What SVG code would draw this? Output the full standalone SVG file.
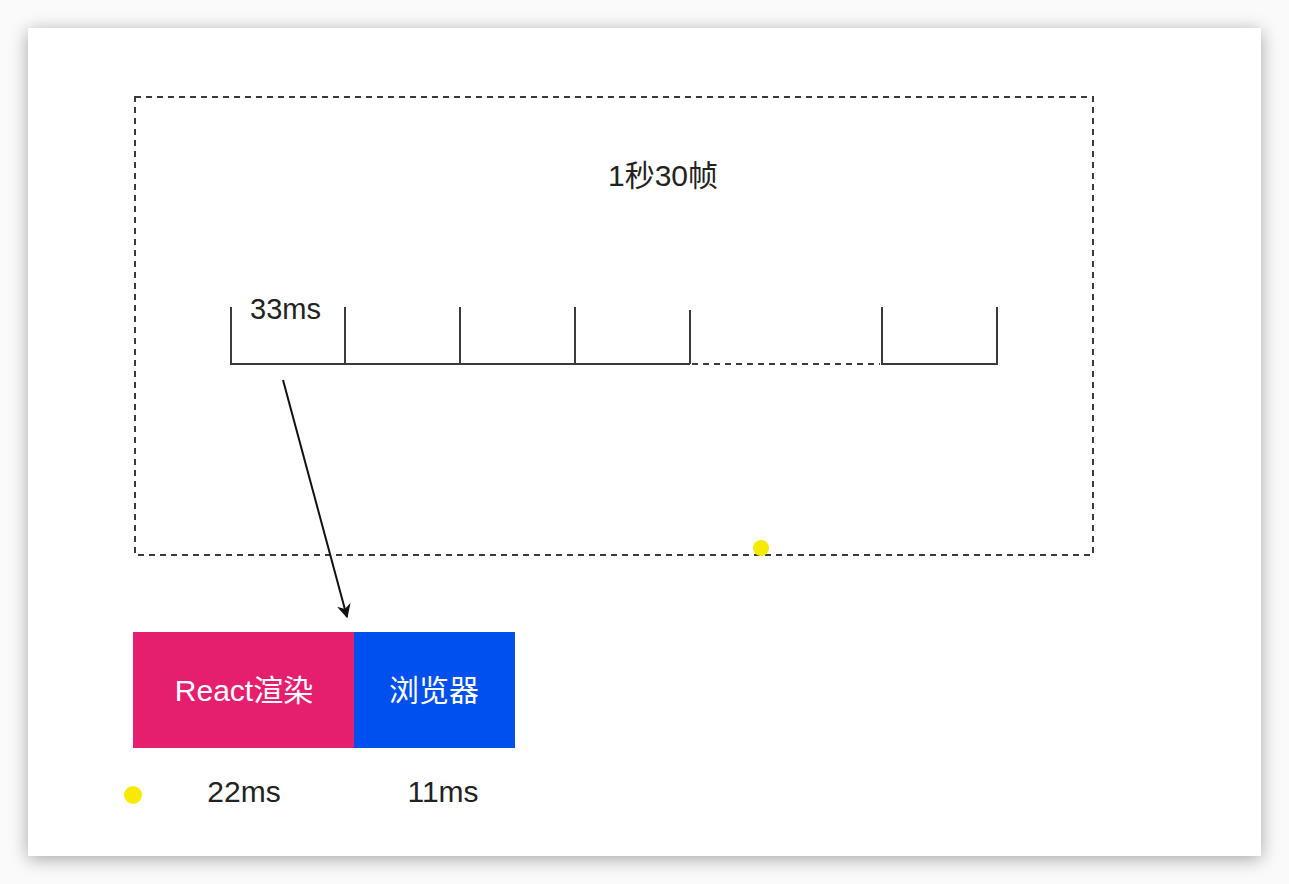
<svg xmlns="http://www.w3.org/2000/svg" width="1289" height="884" viewBox="0 0 1289 884">
<defs>
<filter id="sh" x="-10%" y="-10%" width="120%" height="120%">
<feGaussianBlur in="SourceAlpha" stdDeviation="9"/>
<feOffset dx="0" dy="3"/>
<feComponentTransfer><feFuncA type="linear" slope="0.35"/></feComponentTransfer>
<feMerge><feMergeNode/><feMergeNode in="SourceGraphic"/></feMerge>
</filter>
<marker id="arr" viewBox="0 0 10 10" refX="9" refY="5" markerWidth="18" markerHeight="14" markerUnits="userSpaceOnUse" orient="auto">
<path d="M0,0 L10,5 L0,10 L3,5 Z" fill="#111"/>
</marker>
<style>
.t{font-family:"Liberation Sans","Noto Sans CJK SC",sans-serif;fill:#222;}
.w{font-family:"Liberation Sans","Noto Sans CJK SC",sans-serif;fill:#fff;}
.ln{stroke:#3a3a3a;stroke-width:2;fill:none;}
.dash{stroke:#3a3a3a;stroke-width:2;fill:none;stroke-dasharray:6 5;}
.dot{fill:#f7ea00;}
</style>
</defs>
<rect width="1289" height="884" fill="#fafafa"/>
<rect x="28" y="28" width="1233" height="828" fill="#fff" filter="url(#sh)"/>
<g id="frame">
<rect x="135" y="97" width="958" height="458" class="dash"/>
<text class="t" x="663" y="186" font-size="30" text-anchor="middle">1秒30帧</text>
</g>
<g id="timeline">
<path class="ln" d="M231,307 V364 H690 M345,307 V364 M460,307 V364 M575,307 V364 M690,310 V364 M882,307 V364 H997 V307"/>
<path class="dash" d="M692,364 H880"/>
<text class="t" x="250" y="319" font-size="29">33ms</text>
</g>
<g id="connectors">
<line x1="283" y1="380" x2="347" y2="617" stroke="#111" stroke-width="2" marker-end="url(#arr)"/>
</g>
<g id="react">
<rect x="133" y="632" width="221" height="116" fill="#E61E6E"/>
<text class="w" x="244" y="701" font-size="30" text-anchor="middle">React渲染</text>
</g>
<g id="browser">
<rect x="354" y="632" width="161" height="116" fill="#0050EF"/>
<text class="w" x="434" y="701" font-size="30" text-anchor="middle">浏览器</text>
</g>
<text class="t" x="244" y="802" font-size="30" text-anchor="middle">22ms</text>
<text class="t" x="443" y="802" font-size="30" text-anchor="middle">11ms</text>
<circle class="dot" cx="133" cy="795" r="9"/>
<circle class="dot" cx="761" cy="548" r="8"/>
</svg>
